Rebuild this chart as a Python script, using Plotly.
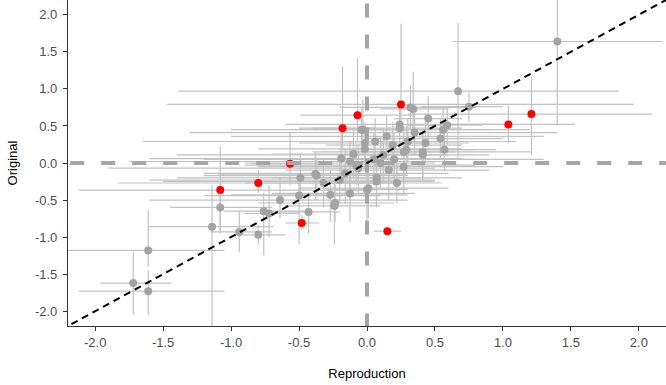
import plotly.graph_objects as go

# ---- data ----
gray_x  = [1.40, 0.67, 0.75, -1.61, -1.72, -1.61, -1.14, -1.08, -0.94, -0.80, -0.76, -0.72, -0.64, -0.50, -0.43,
           -0.27, -0.24, -0.49, -0.37, -0.32, -0.19, -0.125, -0.08, -0.04, -0.03, -0.015, 0.34, 0.32, 0.45, 0.24,
           0.59, 0.56, 0.54, 0.57, 0.35, 0.30, 0.145, 0.06, -0.015, 0.19, 0.29, 0.43, 0.41, 0.12, 0.27,
           -0.38, -0.16, -0.125, -0.064, 0.01, 0.07, 0.16, 0.22, -0.20, 0.41, 0.27, 0.00, 0.24, -0.235,
           0.07, 0.05, 0.10, 0.20, -0.10]
gray_y  = [1.64, 0.97, 0.76, -1.18, -1.62, -1.73, -0.86, -0.60, -0.93, -0.97, -0.65, -0.68, -0.50, -0.44, -0.66,
           -0.43, -0.58, -0.20, -0.17, -0.27, 0.06, 0.02, -0.03, 0.45, 0.45, 0.27, 0.73, 0.75, 0.60, 0.52,
           0.51, 0.45, 0.33, 0.18, 0.41, 0.29, 0.36, 0.29, 0.19, 0.24, 0.18, 0.27, 0.15, 0.11, 0.15,
           -0.15, -0.14, -0.41, -0.07, -0.34, -0.25, -0.095, -0.27, -0.23, 0.11, -0.05, -0.36, 0.47, -0.54,
           -0.20, 0.05, 0.00, 0.05, 0.12]
gray_xlo = [0.63, -1.39, 0.40, -2.40, -1.96, -2.12, -1.61, -1.45, -1.15, -0.95, -1.05, -0.90, -1.60, -1.20, -0.65,
            -1.00, -0.60, -1.40, -1.20, -0.90, -1.60, -1.75, -0.90, -0.40, -1.00, -0.50, 0.10, -0.20, 0.20, -0.60,
            0.30, -0.10, 0.00, 0.20, -1.30, -0.50, -1.00, -1.65, -0.80, -0.30, -0.20, 0.10, -0.40, -1.40, -0.10,
            -1.10, -1.20, -0.70, -1.90, -0.50, -1.50, -0.60, -0.30, -1.60, -0.20, -0.80, -0.30, -0.50, -0.80,
            -0.70, -1.20, -0.90, -0.40, -0.70]
gray_xhi = [2.17, 1.85, 1.00, -1.05, -1.44, -1.05, -0.69, -0.70, -0.70, -0.60, -0.45, -0.50, 0.30, 0.10, -0.20,
            0.30, 0.10, 0.40, 0.30, 0.20, 0.70, 0.55, 0.80, 0.30, 0.90, 0.40, 0.60, 0.80, 0.70, 1.05,
            0.85, 1.20, 1.00, 0.95, 1.40, 1.10, 1.30, 0.95, 0.70, 0.70, 0.80, 0.75, 1.20, 0.60, 0.65,
            0.30, 0.60, 0.35, 0.50, 0.60, 0.50, 0.90, 0.55, 0.50, 0.90, 1.00, 0.30, 0.70, 0.20,
            0.70, 0.80, 0.50, 1.30, 0.40]
gray_ylo = [0.50, 0.07, 0.55, -1.40, -2.05, -2.05, -2.40, -0.95, -1.20, -1.10, -1.25, -1.00, -0.75, -1.10, -0.95,
            -0.80, -1.10, -0.50, -0.45, -0.60, -0.25, -0.35, -0.30, 0.20, 0.10, 0.00, 0.30, 0.45, 0.30, 0.20,
            0.25, 0.15, 0.05, -0.10, 0.10, 0.00, 0.05, -0.05, -0.10, -0.05, -0.15, 0.00, -0.20, -0.25, -0.20,
            -0.50, -0.55, -0.80, -0.40, -0.75, -0.60, -0.50, -0.55, -0.55, -0.25, -0.40, -0.95, 0.20, -0.80,
            -0.50, -0.30, -0.35, -0.30, -0.20]
gray_yhi = [2.40, 1.89, 0.95, -0.64, -1.20, -1.45, -0.30, -0.30, -0.65, -0.85, -0.40, -0.30, -0.20, -0.20, -0.40,
            -0.10, -0.20, 0.10, 0.05, 0.05, 0.50, 0.30, 0.25, 0.75, 0.85, 0.55, 1.23, 1.05, 0.90, 0.85,
            0.75, 0.75, 0.60, 0.45, 0.70, 0.60, 0.65, 0.60, 0.45, 0.55, 0.50, 0.55, 0.45, 0.45, 0.50,
            0.15, 0.20, -0.05, 0.25, 0.00, 0.10, 0.25, 0.00, 0.10, 0.40, 0.30, 0.00, 0.80, -0.20,
            0.10, 0.40, 0.35, 0.40, 0.45]

red_x   = [0.25, -0.07, -0.18, 1.04, 1.21, -1.08, -0.80, -0.566, -0.48, 0.15]
red_y   = [0.79, 0.645, 0.47, 0.52, 0.66, -0.365, -0.27, -0.01, -0.81, -0.92]
red_xlo = [-1.47, -0.49, -0.40, 0.55, 0.30, -2.12, -1.83, -0.85, -0.60, 0.05]
red_xhi = [1.96, 0.35, 0.05, 1.53, 2.10, 0.00, 0.20, -0.30, -0.35, 0.25]
red_ylo = [0.50, 0.30, 0.20, 0.27, 0.11, -0.90, -0.40, -0.30, -0.90, -0.97]
red_yhi = [1.88, 1.42, 1.30, 0.78, 1.17, 0.22, -0.10, 0.41, -0.70, -0.87]

axis_range = [-2.2, 2.2]
tick_vals = [-2.0, -1.5, -1.0, -0.5, 0.0, 0.5, 1.0, 1.5, 2.0]
tick_text = ["-2.0", "-1.5", "-1.0", "-0.5", "0.0", "0.5", "1.0", "1.5", "2.0"]

# ---- figure ----
all_x = gray_x + red_x
all_y = gray_y + red_y
all_xlo = gray_xlo + red_xlo
all_xhi = gray_xhi + red_xhi
all_ylo = gray_ylo + red_ylo
all_yhi = gray_yhi + red_yhi

ERR = "#C2C2C2"
fig = go.Figure()
fig.add_trace(go.Scatter(
    x=all_x, y=all_y, mode="markers",
    marker=dict(size=1, opacity=0),
    error_x=dict(type="data", symmetric=False,
                 array=[h - v for h, v in zip(all_xhi, all_x)],
                 arrayminus=[v - l for v, l in zip(all_x, all_xlo)],
                 color=ERR, thickness=1.2, width=0),
    error_y=dict(type="data", symmetric=False,
                 array=[h - v for h, v in zip(all_yhi, all_y)],
                 arrayminus=[v - l for v, l in zip(all_y, all_ylo)],
                 color=ERR, thickness=1.2, width=0),
    hoverinfo="skip", showlegend=False))

fig.add_trace(go.Scatter(x=gray_x, y=gray_y, mode="markers",
                         marker=dict(size=8, color="#A3A3A3"), showlegend=False))
fig.add_trace(go.Scatter(x=red_x, y=red_y, mode="markers",
                         marker=dict(size=8, color="#FF0000"), showlegend=False))

ext = [axis_range[0] * 1.2, axis_range[1] * 1.2]
REF = "#A6A6A6"
fig.add_trace(go.Scatter(x=ext, y=[0, 0], mode="lines",
                         line=dict(color=REF, width=4, dash="14px,17px"),
                         hoverinfo="skip", showlegend=False))
fig.add_trace(go.Scatter(x=[0, 0], y=ext, mode="lines",
                         line=dict(color=REF, width=4, dash="14px,17px"),
                         hoverinfo="skip", showlegend=False))

fig.add_trace(go.Scatter(x=ext, y=ext, mode="lines",
                         line=dict(color="#000000", width=2, dash="7px,5px"),
                         hoverinfo="skip", showlegend=False))

axis_common = dict(
    range=axis_range, tickvals=tick_vals, ticktext=tick_text,
    showgrid=False, zeroline=False, showline=True, linecolor="#333333", linewidth=1.1,
    ticks="outside", ticklen=4, tickcolor="#333333", tickwidth=1,
    tickfont=dict(family="Liberation Sans, Arial, sans-serif", size=13, color="#4D4D4D"),
    automargin=False,
)
fig.update_layout(
    width=666, height=385,
    margin=dict(l=68, r=0, t=0, b=59),
    paper_bgcolor="white", plot_bgcolor="white",
    font=dict(family="Liberation Sans, Arial, sans-serif", size=13, color="#000000"),
    xaxis=dict(**axis_common, title=dict(text="Reproduction", standoff=20,
                                         font=dict(size=13, color="#000000"))),
    yaxis=dict(**axis_common, ticklabelstandoff=3,
               title=dict(text="Original", standoff=14,
                          font=dict(size=13, color="#000000"))),
)

fig.write_html("out.html", config={"displayModeBar": False},
               post_script="document.body.style.margin='0';document.body.style.padding='0';")
